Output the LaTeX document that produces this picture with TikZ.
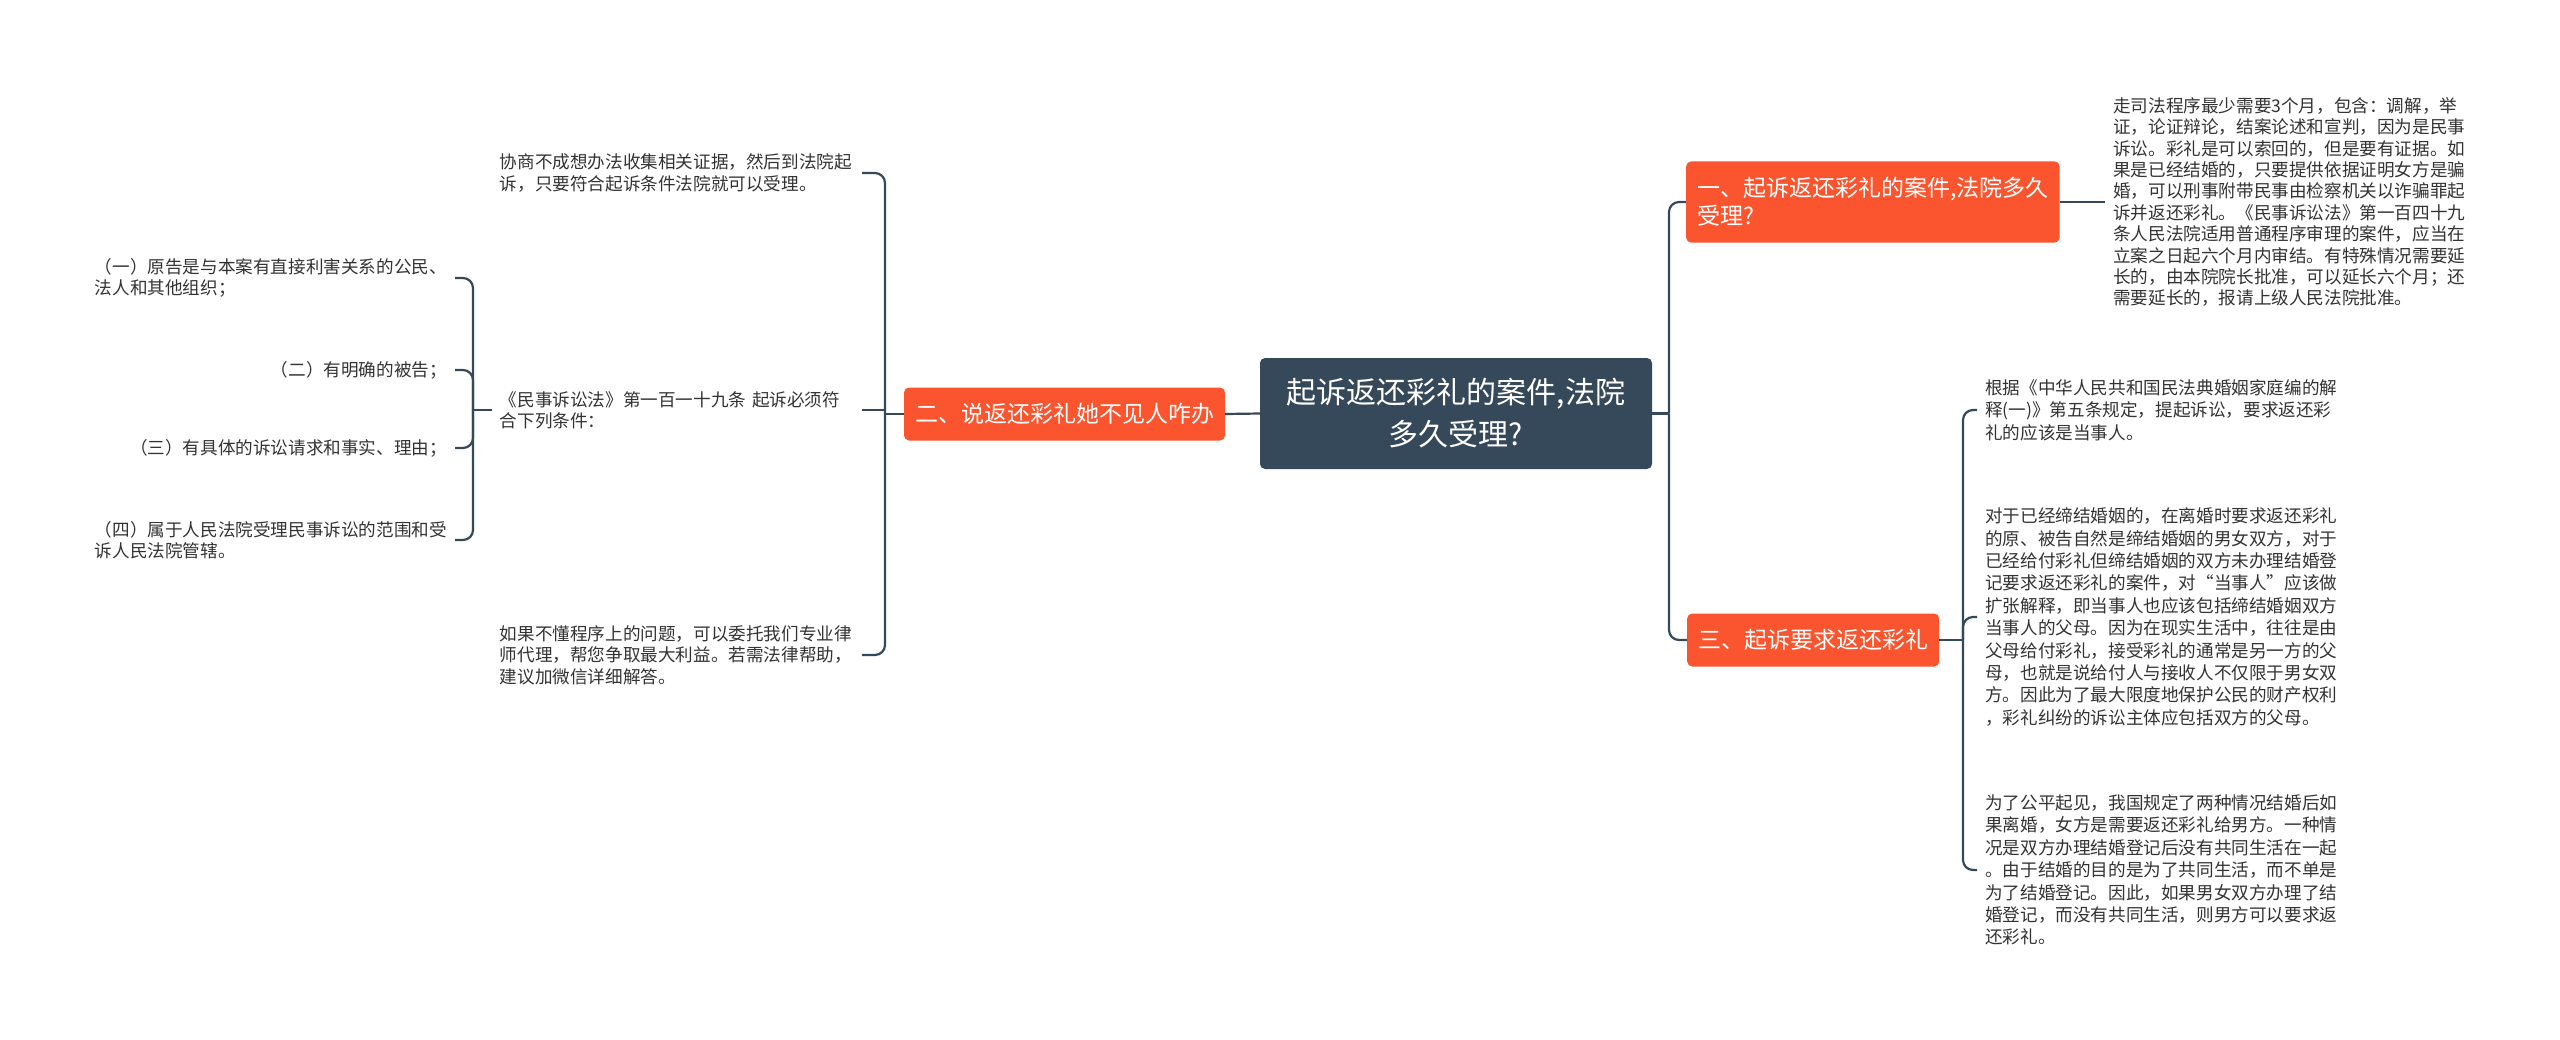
\documentclass[tikz,border=0pt]{standalone}
\usepackage{fontspec}
\setmainfont{Noto Sans CJK SC}
\usepackage{tikz}
\usetikzlibrary{positioning}

\definecolor{rootblue}{HTML}{36495A}
\definecolor{branchred}{HTML}{FA552E}
\definecolor{leafgray}{HTML}{333333}

\tikzset{
    rootbox/.style={fill=rootblue, rounded corners=5pt, text=white, align=center,
        font=\fontsize{30}{42}\selectfont, minimum width=392pt, minimum height=111pt},
    branchbox/.style={fill=branchred, rounded corners=5pt, text=white, align=left,
        font=\fontsize{23}{28}\selectfont, inner xsep=11pt, inner ysep=14pt, minimum height=53pt},
    leaftext/.style={text=leafgray, align=left, font=\fontsize{17.6}{21.4}\selectfont,
        inner xsep=8pt, inner ysep=0pt},
    wideleaf/.style={leaftext, font=\fontsize{17.6}{22.4}\selectfont},
    link/.style={draw=rootblue, line width=2.2pt, rounded corners=10pt}
}

\begin{document}
\begin{tikzpicture}[x=1pt, y=-1pt]
    \fill[white] (0,0) rectangle (2560,1039);
    \useasboundingbox (0,0) rectangle (2560,1039);

    % centre and main branches
    \node[rootbox] (root) at (1456,413.5) {起诉返还彩礼的案件,法院\\多久受理?};
    \node[branchbox, anchor=center] (b2) at (1064.5,414) {二、说返还彩礼她不见人咋办};
    \node[branchbox, anchor=west, inner ysep=16pt] (b1) at (1686,202) {一、起诉返还彩礼的案件,法院多久\\受理?};
    \node[branchbox, anchor=west] (b3) at (1687,640) {三、起诉要求返还彩礼};

    % right side texts
    \node[leaftext, anchor=west] (tr) at (2105,202) {走司法程序最少需要3个月，包含：调解，举\\证，论证辩论，结案论述和宣判，因为是民事\\诉讼。彩礼是可以索回的，但是要有证据。如\\果是已经结婚的，只要提供依据证明女方是骗\\婚，可以刑事附带民事由检察机关以诈骗罪起\\诉并返还彩礼。《民事诉讼法》第一百四十九\\条人民法院适用普通程序审理的案件，应当在\\立案之日起六个月内审结。有特殊情况需要延\\长的，由本院院长批准，可以延长六个月；还\\需要延长的，报请上级人民法院批准。};
    \node[wideleaf, anchor=west] (R1) at (1977,410) {根据《中华人民共和国民法典婚姻家庭编的解\\释(一)》第五条规定，提起诉讼，要求返还彩\\礼的应该是当事人。};
    \node[wideleaf, anchor=west] (R2) at (1977,617) {对于已经缔结婚姻的，在离婚时要求返还彩礼\\的原、被告自然是缔结婚姻的男女双方，对于\\已经给付彩礼但缔结婚姻的双方未办理结婚登\\记要求返还彩礼的案件，对“当事人”应该做\\扩张解释，即当事人也应该包括缔结婚姻双方\\当事人的父母。因为在现实生活中，往往是由\\父母给付彩礼，接受彩礼的通常是另一方的父\\母，也就是说给付人与接收人不仅限于男女双\\方。因此为了最大限度地保护公民的财产权利\\，彩礼纠纷的诉讼主体应包括双方的父母。};
    \node[wideleaf, anchor=west] (R3) at (1977,870) {为了公平起见，我国规定了两种情况结婚后如\\果离婚，女方是需要返还彩礼给男方。一种情\\况是双方办理结婚登记后没有共同生活在一起\\。由于结婚的目的是为了共同生活，而不单是\\为了结婚登记。因此，如果男女双方办理了结\\婚登记，而没有共同生活，则男方可以要求返\\还彩礼。};

    % left side texts
    \node[leaftext, text width=354pt, anchor=east] (L1) at (862,173) {协商不成想办法收集相关证据，然后到法院起\\诉，只要符合起诉条件法院就可以受理。};
    \node[leaftext, text width=354pt, anchor=east] (L2) at (862,410) {《民事诉讼法》第一百一十九条 起诉必须符\\合下列条件：};
    \node[leaftext, text width=354pt, anchor=east] (L3) at (862,655) {如果不懂程序上的问题，可以委托我们专业律\\师代理，帮您争取最大利益。若需法律帮助，\\建议加微信详细解答。};

    % conditions
    \node[leaftext, anchor=east] (I1) at (455,278) {（一）原告是与本案有直接利害关系的公民、\\法人和其他组织；};
    \node[leaftext, anchor=east] (I2) at (455,370) {（二）有明确的被告；};
    \node[leaftext, anchor=east] (I3) at (455,448) {（三）有具体的诉讼请求和事实、理由；};
    \node[leaftext, anchor=east] (I4) at (455,540) {（四）属于人民法院受理民事诉讼的范围和受\\诉人民法院管辖。};

    % connectors
    \coordinate (jr) at (1669,413.5);
    \coordinate (j3) at (1963,640);
    \coordinate (j2) at (885,414);
    \coordinate (j4) at (473,410);

    \draw[link] (root.west) -- (b2.east);
    \draw[link] (root.east) -- (jr);
    \draw[link] (jr) |- (b1.west);
    \draw[link] (jr) |- (b3.west);
    \draw[link] (b1.east) -- (tr.west);

    \draw[link] (b3.east) -- (j3);
    \foreach \n in {R1,R2,R3}
        \draw[link] (j3) |- (\n.west);

    \draw[link] (b2.west) -- (j2);
    \draw[link] (j2) |- (L1.east);
    \draw[link] (j2) |- (L3.east);
    \draw[link] (L2.east) -- (L2.east -| j2);

    \draw[link] (L2.west) -- (j4);
    \foreach \n in {I1,I2,I3,I4}
        \draw[link] (j4) |- (\n.east);
\end{tikzpicture}
\end{document}
